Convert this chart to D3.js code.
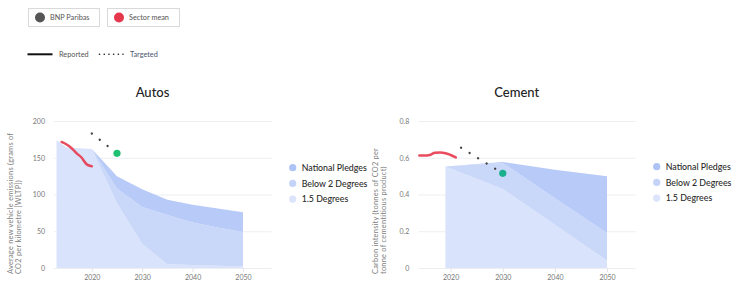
<!DOCTYPE html>
<html>
<head>
<meta charset="utf-8">
<script src="https://cdn.jsdelivr.net/npm/d3@7"></script>
<style>
	body { margin: 0; background: #fff; }
	svg { font-family: Lato, "Noto Sans", sans-serif; display: block; }
</style>
</head>
<body>
<div id="chart"></div>
<script>
// sector benchmark data

const autosYears = [2013, 2015, 2020, 2025, 2030, 2035, 2040, 2045, 2050];
const autos15 = [174, 164, 162, 88, 33, 5, 4, 3, 2];
const autosB2 = [174, 164, 162, 108, 83, 72, 62, 55, 49];
const autosNP = [174, 164, 162, 125, 107, 93, 86, 81, 76];
const autosReportedYears = [2014, 2015, 2016, 2017, 2018, 2019, 2020];
const autosReported = [171.5, 168, 163, 156, 150, 141, 138.5];
const autosTargetYears = [2020, 2025];
const autosTarget = [183, 156];

const cementYears = [2019, 2030, 2040, 2050];
const cement15 = [0.553, 0.43, 0.235, 0.04];
const cementB2 = [0.553, 0.572, 0.38, 0.19];
const cementNP = [0.553, 0.577, 0.535, 0.50];
const cementReportedYears = [2014, 2015, 2016, 2017, 2018, 2019, 2020, 2021];
const cementReported = [0.612, 0.612, 0.615, 0.627, 0.628, 0.625, 0.615, 0.602];
const cementTargetYears = [2022, 2030];
const cementTarget = [0.655, 0.515];

const xTicks = [2020, 2030, 2040, 2050];
const scenarioLabels = ["National Pledges", "Below 2 Degrees", "1.5 Degrees"];
const companyLegend = ["BNP Paribas", "Sector mean"];
const lineLegend = ["Reported", "Targeted"];

const bandColors = ["#b8caf7", "#c9d7f9", "#d9e3fb"];
const legendColors = ["#adc2f5", "#c4d3f8", "#dbe4fb"];
const red = "#e5384c";
const grey = "#555";

var svg = d3.select("#chart").append("svg")
	.attr("width", 735)
	.attr("height", 282);

// top legends
var boxes = [{x: 28.5, w: 71, color: grey}, {x: 107.5, w: 72, color: red}];
boxes.forEach(function(b, i) {
	var g = svg.append("g").attr("transform", "translate(" + b.x + ",8.5)");
	g.append("rect")
		.attr("width", b.w).attr("height", 18)
		.attr("fill", "#fff")
		.attr("stroke", "#d9d9d9");
	g.append("circle")
		.attr("cx", 11.5).attr("cy", 9)
		.attr("r", 5)
		.attr("fill", b.color);
	g.append("text")
		.attr("x", 21.5).attr("y", 11.6)
		.attr("font-size", 7.3)
		.attr("fill", "#555")
		.text(companyLegend[i]);
});

svg.append("line")
	.attr("x1", 27.5).attr("x2", 52.5)
	.attr("y1", 54.3).attr("y2", 54.3)
	.attr("stroke", "#111").attr("stroke-width", 2);
svg.append("text")
	.attr("x", 59).attr("y", 56.8)
	.attr("font-size", 7.3).attr("fill", "#555")
	.text(lineLegend[0]);
svg.append("line")
	.attr("x1", 99.5).attr("x2", 123)
	.attr("y1", 54.3).attr("y2", 54.3)
	.attr("stroke", "#222").attr("stroke-width", 1.6)
	.attr("stroke-linecap", "round")
	.attr("stroke-dasharray", "0.1,4.6");
svg.append("text")
	.attr("x", 130).attr("y", 56.8)
	.attr("font-size", 7.3).attr("fill", "#4d5670")
	.text(lineLegend[1]);

function drawChart(opts) {
	var x = d3.scaleLinear().domain(opts.xDomain).range(opts.xRange);
	var y = d3.scaleLinear().domain([0, opts.yMax]).range([268, 121]);
	var g = svg.append("g");

	g.append("text")
		.attr("x", opts.titleX).attr("y", 96.5)
		.attr("text-anchor", "middle")
		.attr("font-size", 13)
		.attr("font-weight", 500)
		.attr("fill", "#222")
		.text(opts.title);

	// grid + y axis
	var yAxis = g.append("g")
		.attr("transform", "translate(" + opts.xRange[0] + ",0)")
		.call(d3.axisLeft(y).tickValues(opts.yTicks)
			.tickSize(-(opts.xRange[1] - opts.xRange[0]))
			.tickPadding(9)
			.tickFormat(opts.yFormat));
	yAxis.select(".domain").remove();
	yAxis.selectAll("line").attr("stroke", "#eceef2");
	yAxis.selectAll("text").attr("fill", "#777").attr("font-size", 7).attr("font-family", "Lato, sans-serif");

	var xAxis = g.append("g")
		.attr("transform", "translate(0,268)")
		.call(d3.axisBottom(x).tickValues(xTicks).tickSize(4).tickPadding(3).tickFormat(d3.format("d")));
	xAxis.select(".domain").remove();
	xAxis.selectAll("line").attr("stroke", "#e2e4e8");
	xAxis.selectAll("text").attr("fill", "#777").attr("font-size", 7).attr("font-family", "Lato, sans-serif");

	// y label, two lines
	opts.yLabel.forEach(function(line, i) {
		g.append("text")
			.attr("transform", "translate(" + (opts.yLabelX + i * 8.2) + ",274) rotate(-90)")
			.attr("font-size", 7.4)
			.attr("letter-spacing", 0.25)
			.attr("fill", "#808080")
			.text(line);
	});

	// benchmark bands
	var rows = opts.years.map(function(yr, i) {
		return {year: yr, v15: opts.s15[i], b2: opts.sB2[i], np: opts.sNP[i]};
	});
	var bands = [
		{lo: function(d) { return d.b2; }, hi: function(d) { return d.np; }},
		{lo: function(d) { return d.v15; }, hi: function(d) { return d.b2; }},
		{lo: function(d) { return 0; }, hi: function(d) { return d.v15; }}
	];
	bands.slice().reverse().forEach(function(b, j) {
		var idx = 2 - j;
		g.append("path")
			.datum(rows)
			.attr("fill", bandColors[idx])
			.attr("d", d3.area()
				.x(function(d) { return x(d.year); })
				.y0(function(d) { return y(b.lo(d)); })
				.y1(function(d) { return y(b.hi(d)); }));
	});

	// sector mean, reported
	g.append("path")
		.datum(opts.repYears.map(function(yr, i) { return [yr, opts.rep[i]]; }))
		.attr("fill", "none")
		.attr("stroke", red)
		.attr("stroke-opacity", 0.9)
		.attr("stroke-width", 2.5)
		.attr("stroke-linecap", "round")
		.attr("d", d3.line()
			.x(function(d) { return x(d[0]); })
			.y(function(d) { return y(d[1]); })
			.curve(d3.curveMonotoneX));

	// company target, dotted
	var tgt = opts.tgtYears.map(function(yr, i) { return [yr, opts.tgt[i]]; });
	g.append("path")
		.datum(tgt)
		.attr("fill", "none")
		.attr("stroke", "#444")
		.attr("stroke-width", 2.3)
		.attr("stroke-linecap", "round")
		.attr("stroke-dasharray", "0.1,9.9")
		.attr("d", d3.line()
			.x(function(d) { return x(d[0]); })
			.y(function(d) { return y(d[1]); }));
	g.append("circle")
		.attr("cx", x(tgt[1][0]))
		.attr("cy", y(tgt[1][1]))
		.attr("r", 3.6)
		.attr("fill", opts.dotColor);

	// scenario legend
	scenarioLabels.forEach(function(lab, i) {
		var ly = opts.legendY + i * 15.7;
		g.append("circle")
			.attr("cx", opts.legendX).attr("cy", ly)
			.attr("r", 3.6)
			.attr("fill", legendColors[i]);
		g.append("text")
			.attr("x", opts.legendX + 9).attr("y", ly + 3.1)
			.attr("font-size", 8.8)
			.attr("font-weight", 500)
			.attr("fill", "#2a2a2a")
			.text(lab);
	});
}

drawChart({
	title: "Autos", titleX: 152.5,
	xDomain: [2012.5, 2055.7], xRange: [54, 271.7],
	yMax: 200, yTicks: [0, 50, 100, 150, 200], yFormat: d3.format("d"),
	yLabel: ["Average new vehicle emissions (grams of", "CO2 per kilometre [WLTP])"], yLabelX: 12.5,
	years: autosYears, s15: autos15, sB2: autosB2, sNP: autosNP,
	repYears: autosReportedYears, rep: autosReported,
	tgtYears: autosTargetYears, tgt: autosTarget,
	dotColor: "#1ec071",
	legendX: 292.7, legendY: 167.7
});

drawChart({
	title: "Cement", titleX: 516.7,
	xDomain: [2013.8, 2055.5], xRange: [418.3, 635.7],
	yMax: 0.8, yTicks: [0, 0.2, 0.4, 0.6, 0.8], yFormat: function(d) { return d === 0 ? "0" : d3.format(".1f")(d); },
	yLabel: ["Carbon intensity (tonnes of CO2 per", "tonne of cementitious product)"], yLabelX: 378,
	years: cementYears, s15: cement15, sB2: cementB2, sNP: cementNP,
	repYears: cementReportedYears, rep: cementReported,
	tgtYears: cementTargetYears, tgt: cementTarget,
	dotColor: "#1bb08d",
	legendX: 656.7, legendY: 166.7
});
</script>
</body>
</html>
